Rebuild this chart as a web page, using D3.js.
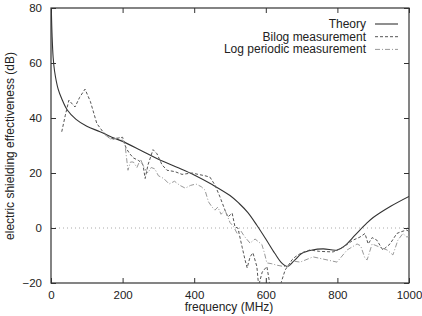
<!DOCTYPE html>
<html><head><meta charset="utf-8">
<script src="https://cdn.jsdelivr.net/npm/d3@7"></script>
<style>body{margin:0;background:#fff}svg{display:block}text{font-family:"Liberation Sans",Arial,sans-serif;fill:#222}</style>
</head><body>
<svg id="c" width="422" height="316"></svg>
<script>
const xTicks=[0,200,400,600,800,1000];
const yTicks=[-20,0,20,40,60,80];
const seriesNames=["Theory","Bilog measurement","Log periodic measurement"];
const theoryF=[1,3,6,10,20,30,45,70,100,137,170,200,250,300,350,400,450,500,525,550,575,600,625,645,660,680,700,730,760,800,820,850,880,900,950,1000];
const theoryDB=[79,70,62,57,50.5,47,43,39.5,37,35,33,31.5,28.3,25,22.2,19.3,15.8,11.8,9,5.6,1,-4,-9.2,-12.8,-14,-11.8,-9.3,-8,-7.6,-8,-6.5,-2.5,1.5,3.8,8,11.5];
const bilogF=[30,40,50,60,67,80,95,110,128,145,165,180,200,210,220,230,245,257,263,271,285,296,310,324,346,366,394,411,430,444,458,472,486,494,506,514,522,534,542,548,556,564,575,580,590,603,612,625,640,654,673,682,700,723,750,788,816,844,863,877,886,897,910,927,947,966,975,994,1000];
const bilogDB=[35,41,46.5,45,44,47.5,50.5,46,38,35,32.5,32.5,33,29,27,25.5,24.5,23,18,23,28.5,27,23,21,20.5,19.5,20,19.5,19,18.5,15.6,11.3,6.5,4,5.4,0.4,0,-7,-11.6,-14.5,-10.5,-9,-14,-21,-16,-14,-21,-24,-21,-15.3,-11.6,-10.5,-9,-8,-8.5,-8.7,-7,-4.4,-3.3,-2,-5.8,-3.5,-4.4,-8,-5.8,-2,-1.5,-0.7,-1.5];
const logpF=[150,170,190,200,207,215,222,230,240,250,260,270,280,290,300,315,330,345,360,375,390,405,420,430,440,450,458,466,475,486,500,510,520,530,540,556,570,589,596,603,617,630,650,662,675,696,732,771,799,827,855,865,877,883,897,919,939,955,969,983,994,1000];
const logpDB=[34,32,33,32,30,21,24,24,22,25,22,20,22,21.5,19,18,16,17,15.5,14.5,15.5,16,15,13.8,9.5,7.6,6.5,7.6,5,6.5,2,0.5,-2,-1,-3,-5.5,-4,-6,-9,-12.7,-13,-13.5,-14,-14,-12,-12.4,-10.5,-11.6,-12.4,-8,-5.8,-6.5,-11,-11.6,-5.8,-7,-8,-9.8,-4.4,-2,-3.3,-3];

const svg=d3.select("#c");
const L=51,R=409,T=8,B=283;
const x=d3.scaleLinear().domain([0,1000]).range([L,R]);
const y=d3.scaleLinear().domain([-20,80]).range([B,T]);

svg.append("defs").append("clipPath").attr("id","clip").append("rect")
  .attr("x",L).attr("y",T).attr("width",R-L).attr("height",B-T);

// zero axis
svg.append("line").attr("x1",x(0)).attr("x2",x(1000)).attr("y1",y(0)).attr("y2",y(0))
  .attr("stroke","#aaa").attr("stroke-width",1).attr("stroke-dasharray","1,3");

// axes with inward ticks, mirrored
const ax=svg.append("g").attr("class","axes");
ax.append("g").attr("transform",`translate(0,${B})`)
  .call(d3.axisBottom(x).tickValues(xTicks).tickSize(-5).tickPadding(8).tickFormat(d3.format("d")));
ax.append("g").attr("transform",`translate(0,${T})`)
  .call(d3.axisTop(x).tickValues(xTicks).tickSize(-5).tickFormat(""));
ax.append("g").attr("transform",`translate(${L},0)`)
  .call(d3.axisLeft(y).tickValues(yTicks).tickSize(-5).tickPadding(9).tickFormat(d3.format("d")));
ax.append("g").attr("transform",`translate(${R},0)`)
  .call(d3.axisRight(y).tickValues(yTicks).tickSize(-5).tickFormat(""));
ax.selectAll(".domain").remove();
ax.selectAll(".tick line").attr("stroke","#333");
ax.selectAll(".tick text").attr("font-size","11.5px").attr("fill","#222")
  .attr("font-family","'Liberation Sans',Arial,sans-serif");
svg.append("rect").attr("x",L).attr("y",T).attr("width",R-L).attr("height",B-T)
  .attr("fill","none").attr("stroke","#333").attr("stroke-width",1.2);

const line=d3.line().x(d=>x(d[0])).y(d=>y(d[1]));
const smooth=d3.line().x(d=>x(d[0])).y(d=>y(d[1])).curve(d3.curveCatmullRom.alpha(0.5));
const g=svg.append("g").attr("clip-path","url(#clip)");
const styles=[
  {stroke:"#333",w:1.1,dash:null},
  {stroke:"#555",w:1,dash:"3,2"},
  {stroke:"#999",w:1,dash:"5,2,1,2"}
];
const data=[
  d3.zip(theoryF,theoryDB),
  d3.zip(bilogF,bilogDB),
  d3.zip(logpF,logpDB)
];
data.forEach((d,i)=>{
  g.append("path").datum(d).attr("d",i===0?smooth:line).attr("fill","none")
    .attr("stroke",styles[i].stroke).attr("stroke-width",styles[i].w)
    .attr("stroke-dasharray",styles[i].dash);
});

// legend
seriesNames.forEach((n,i)=>{
  const yy=24+i*12.7;
  svg.append("text").attr("x",366).attr("y",yy+4).attr("text-anchor","end")
    .attr("font-size","12px").text(n);
  svg.append("line").attr("x1",375).attr("x2",398).attr("y1",yy).attr("y2",yy)
    .attr("stroke",styles[i].stroke).attr("stroke-width",styles[i].w).attr("stroke-dasharray",styles[i].dash);
});

// axis titles
svg.append("text").attr("x",229).attr("y",311).attr("text-anchor","middle")
  .attr("font-size","12px").text("frequency (MHz)");
svg.append("text").attr("transform","translate(14,146) rotate(-90)").attr("text-anchor","middle")
  .attr("font-size","12px").text("electric shielding effectiveness (dB)");
</script>
</body></html>
